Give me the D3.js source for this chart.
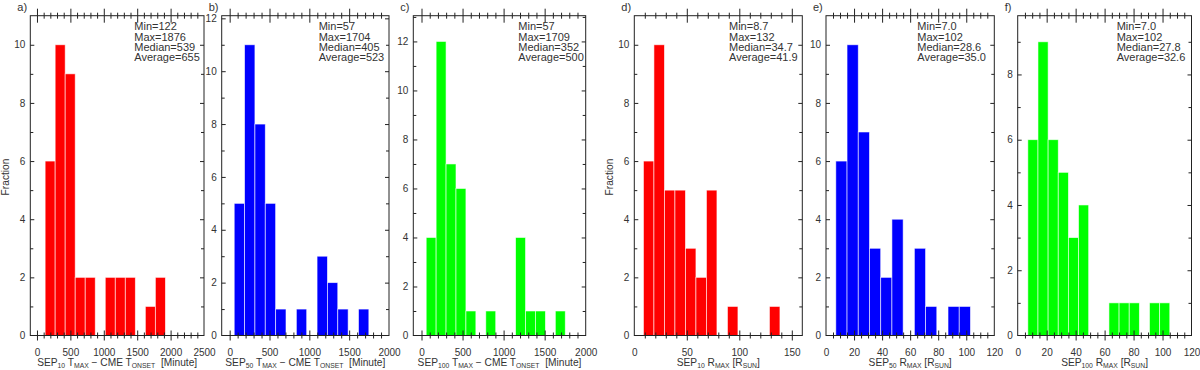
<!DOCTYPE html>
<html>
<head>
<meta charset="utf-8">
<script src="https://cdn.jsdelivr.net/npm/d3@7"></script>
<style>
    body { margin: 0; background: #fff; }
    svg { font-family: "Liberation Sans", Arial, sans-serif; }
    .tick text { fill: #333; font-size: 10px; }
    .stats { fill: #333; font-size: 11px; }
    .label { fill: #333; font-size: 10.2px; }
    .letter { fill: #333; font-size: 11px; }
</style>
</head>
<body>
<svg id="chart" width="1200" height="370"></svg>
<script>

var width = 1200;
var height = 370;
var plotTop = 15.7;
var plotBottom = 335.5;

// histogram data
var tA = { start: 122, bin: 150, counts: [6, 10, 9, 2, 2, 0, 2, 2, 2, 0, 1, 2] };
var tB = { start: 57, bin: 130, counts: [5, 11, 8, 5, 1, 0, 1, 0, 3, 2, 1, 0, 1] };
var tC = { start: 57, bin: 121, counts: [4, 12, 7, 6, 1, 0, 1, 0, 0, 4, 1, 1, 0, 1] };
var rD = { start: 8.7, bin: 10, counts: [6, 10, 5, 5, 3, 2, 5, 0, 1, 0, 0, 0, 1] };
var rE = { start: 7.0, bin: 8, counts: [6, 10, 7, 3, 2, 4, 0, 3, 1, 0, 1, 1] };
var rF = { start: 7.0, bin: 7, counts: [6, 9, 6, 5, 3, 4, 0, 0, 1, 1, 1, 0, 1, 1] };

var statsA = ["Min=122", "Max=1876", "Median=539", "Average=655"];
var statsB = ["Min=57", "Max=1704", "Median=405", "Average=523"];
var statsC = ["Min=57", "Max=1709", "Median=352", "Average=500"];
var statsD = ["Min=8.7", "Max=132", "Median=34.7", "Average=41.9"];
var statsE = ["Min=7.0", "Max=102", "Median=28.6", "Average=35.0"];
var statsF = ["Min=7.0", "Max=102", "Median=27.8", "Average=32.6"];

var tickMinutesA = [0, 500, 1000, 1500, 2000, 2500];
var tickMinutes = [0, 500, 1000, 1500, 2000];
var tickRsunD = [0, 50, 100, 150];
var tickRsun = [0, 20, 40, 60, 80, 100, 120];

var panels = [
    {name: "a)", hist: tA, stats: statsA, colour: "#ff0000", left: 30.3, right: 204, xMin: -100, xMax: 2500, yMax: 11,
     major: tickMinutesA, minorStep: 100, sep: "10", kind: "T", statsX: 104, ylabel: true},
    {name: "b)", hist: tB, stats: statsB, colour: "#0000ff", left: 221.7, right: 389, xMin: -100, xMax: 2000, yMax: 12.1,
     major: tickMinutes, minorStep: 100, sep: "50", kind: "T", statsX: 97, ylabel: false},
    {name: "c)", hist: tC, stats: statsC, colour: "#00ff00", left: 413.3, right: 585.7, xMin: -100, xMax: 2000, yMax: 13.05,
     major: tickMinutes, minorStep: 100, sep: "100", kind: "T", statsX: 105, ylabel: false},
    {name: "d)", hist: rD, stats: statsD, colour: "#ff0000", left: 634.3, right: 802.3, xMin: 0, xMax: 160, yMax: 11,
     major: tickRsunD, minorStep: 10, sep: "10", kind: "R", statsX: 94.7, ylabel: true},
    {name: "e)", hist: rE, stats: statsE, colour: "#0000ff", left: 826, right: 994.3, xMin: 0, xMax: 120, yMax: 11,
     major: tickRsun, minorStep: 5, sep: "50", kind: "R", statsX: 91.3, ylabel: false},
    {name: "f)", hist: rF, stats: statsF, colour: "#00ff00", left: 1017.7, right: 1191.5, xMin: 0, xMax: 120, yMax: 9.8,
     major: tickRsun, minorStep: 5, sep: "100", kind: "R", statsX: 99, ylabel: false}
];

var svg = d3.select("#chart");

function tickSet(parent, axisFn, values, size, transform) {
    var g = parent.append("g")
        .attr("transform", transform)
        .call(axisFn.tickValues(values).tickSize(size).tickFormat(""));
    g.select(".domain").remove();
    g.selectAll("line").attr("stroke", "#222").attr("stroke-width", 1);
    return g;
}

function minorValues(lo, hi, step, major) {
    var out = [];
    for (var v = Math.ceil(lo / step) * step; v <= hi + 1e-9; v += step) {
        var isMajor = major.some(function(m) {return Math.abs(m - v) < 1e-9});
        if (!isMajor && v > lo + 1e-9 && v < hi - 1e-9) out.push(+v.toFixed(6));
    }
    return out;
}

function xLabel(parent, p) {
    var cx = (p.left + p.right) / 2;
    var t = parent.append("text")
        .attr("class", "label")
        .attr("x", cx)
        .attr("y", 366)
        .attr("text-anchor", "middle");
    var parts = [["SEP", 0], [p.sep, 1]];
    if (p.kind == "T") {
        parts = parts.concat([[" T", 0], ["MAX", 1], [" \u2212 CME T", 0], ["ONSET", 1], ["  [Minute]", 0]]);
    } else {
        parts = parts.concat([[" R", 0], ["MAX", 1], [" [R", 0], ["SUN", 1], ["]", 0]]);
    }
    var shifted = false;
    parts.forEach(function(pt) {
        var s = t.append("tspan").text(pt[0]).attr("xml:space", "preserve");
        if (pt[1]) {
            s.attr("font-size", "6.8px").attr("dy", shifted ? 0 : 2);
            shifted = true;
        } else {
            s.attr("dy", shifted ? -2 : 0);
            shifted = false;
        }
    });
}

function drawPanel(p) {
    var g = svg.append("g");
    var scaleX = d3.scaleLinear().domain([p.xMin, p.xMax]).range([p.left, p.right]);
    var scaleY = d3.scaleLinear().domain([0, p.yMax]).range([plotBottom, plotTop]);

    var bins = p.hist.counts.map(function(c, i) {
        return {x0: p.hist.start + i * p.hist.bin, x1: p.hist.start + (i + 1) * p.hist.bin, n: c};
    }).filter(function(d) {return d.n > 0});

    g.selectAll("rect.bar").data(bins).enter().append("rect")
        .attr("class", "bar")
        .attr("x", function(d) {return scaleX(d.x0)})
        .attr("y", function(d) {return scaleY(d.n)})
        .attr("width", function(d) {return scaleX(d.x1) - scaleX(d.x0)})
        .attr("height", function(d) {return scaleY(0) - scaleY(d.n)})
        .attr("fill", p.colour)
        .attr("stroke", "rgba(255,255,255,0.7)")
        .attr("stroke-width", 0.8);

    // baseline
    g.append("line")
        .attr("x1", p.left).attr("x2", p.right)
        .attr("y1", scaleY(0)).attr("y2", scaleY(0))
        .attr("stroke", "#999");

    // frame
    g.append("rect")
        .attr("x", p.left).attr("y", plotTop)
        .attr("width", p.right - p.left).attr("height", plotBottom - plotTop)
        .attr("fill", "none").attr("stroke", "#222").attr("stroke-width", 1);

    var minors = minorValues(p.xMin, p.xMax, p.minorStep, p.major);
    var majors = p.major.filter(function(v) {return v > p.xMin && v < p.xMax});

    // x ticks cross the top and bottom edges
    tickSet(g, d3.axisTop(scaleX), minors, 3, "translate(0," + plotTop + ")");
    tickSet(g, d3.axisBottom(scaleX), minors, 3, "translate(0," + plotTop + ")");
    tickSet(g, d3.axisTop(scaleX), majors, 7, "translate(0," + plotTop + ")");
    tickSet(g, d3.axisBottom(scaleX), majors, 7, "translate(0," + plotTop + ")");
    tickSet(g, d3.axisTop(scaleX), minors, 3, "translate(0," + plotBottom + ")");
    tickSet(g, d3.axisBottom(scaleX), minors, 3, "translate(0," + plotBottom + ")");
    tickSet(g, d3.axisTop(scaleX), majors, 5, "translate(0," + plotBottom + ")");
    tickSet(g, d3.axisBottom(scaleX), majors, 5, "translate(0," + plotBottom + ")");

    var yMajor = d3.range(0, Math.floor(p.yMax) + 1, 2);
    var yMinor = d3.range(1, Math.floor(p.yMax) + 1, 2).filter(function(v) {return v < p.yMax});
    tickSet(g, d3.axisRight(scaleY), yMajor.filter(function(v) {return v > 0}), 4, "translate(" + p.left + ",0)");
    tickSet(g, d3.axisRight(scaleY), yMinor, 3, "translate(" + p.left + ",0)");
    tickSet(g, d3.axisLeft(scaleY), yMajor.filter(function(v) {return v > 0}), 4, "translate(" + p.right + ",0)");
    tickSet(g, d3.axisLeft(scaleY), yMinor, 3, "translate(" + p.right + ",0)");

    // tick labels
    var ax = g.append("g")
        .attr("transform", "translate(0," + plotBottom + ")")
        .call(d3.axisBottom(scaleX).tickValues(p.major).tickSize(0).tickPadding(13).tickFormat(d3.format("d")));
    ax.select(".domain").remove();

    var ay = g.append("g")
        .attr("transform", "translate(" + (p.left - 3) + ",0)")
        .call(d3.axisLeft(scaleY).tickValues(yMajor).tickSize(0).tickPadding(2).tickFormat(d3.format("d")));
    ay.select(".domain").remove();

    // panel letter
    g.append("text")
        .attr("class", "letter")
        .attr("x", p.left - 13).attr("y", 11)
        .text(p.name);

    // statistics
    g.selectAll("text.stats").data(p.stats).enter().append("text")
        .attr("class", "stats")
        .attr("x", p.left + p.statsX)
        .attr("y", function(d, i) {return plotTop + 14.5 + i * 10.3})
        .text(function(d) {return d});

    if (p.ylabel) {
        g.append("text")
            .attr("class", "label")
            .attr("font-size", "10px")
            .attr("transform", "rotate(-90," + (p.left - 21.5) + ",177)")
            .attr("x", p.left - 21.5).attr("y", 177)
            .attr("text-anchor", "middle")
            .text("Fraction");
    }

    xLabel(g, p);
}

panels.forEach(drawPanel);
</script>
</body>
</html>
